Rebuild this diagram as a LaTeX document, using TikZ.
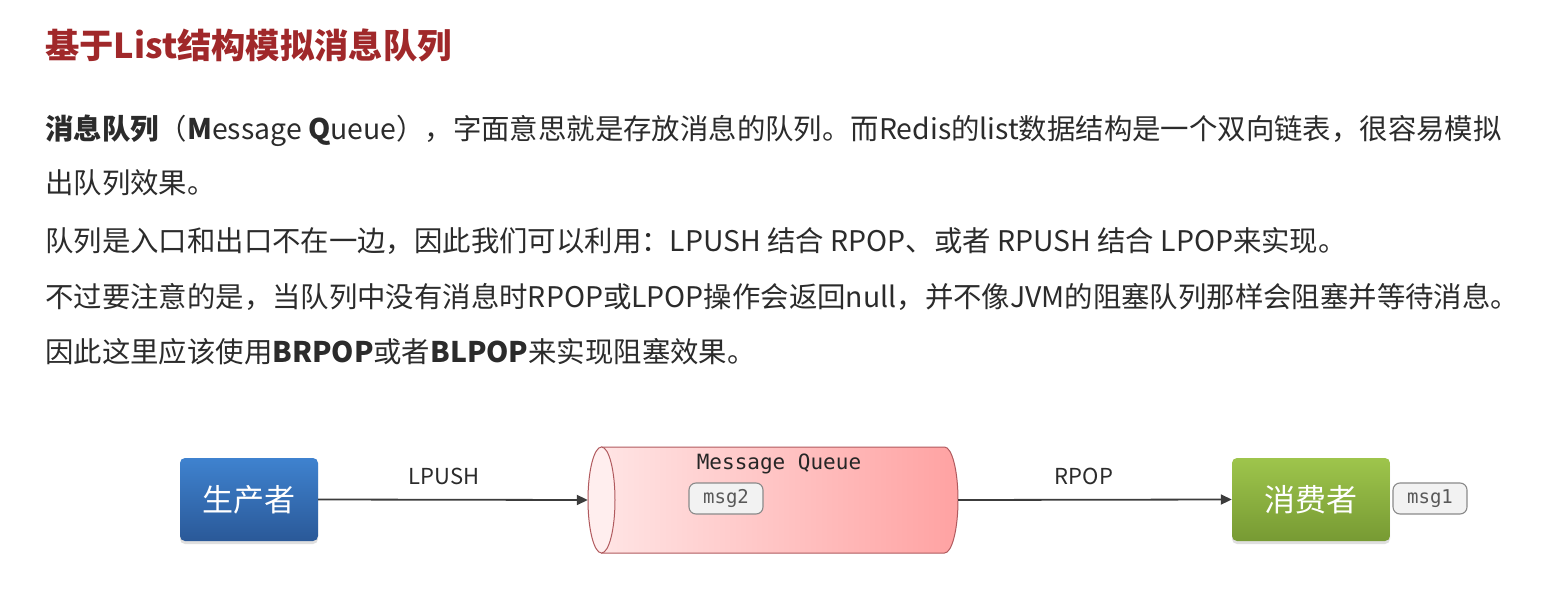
\documentclass[tikz,border=0pt]{standalone}
\usepackage{fontspec}
\setmainfont{Noto Sans CJK SC}
\newfontfamily\monofont{DejaVu Sans Mono}
\usetikzlibrary{arrows.meta,shadows}
\definecolor{titlered}{HTML}{A0282A}
\definecolor{bodytext}{HTML}{2B2B2B}
\definecolor{bluetop}{HTML}{3F82CF}
\definecolor{bluebot}{HTML}{2A5998}
\definecolor{greentop}{HTML}{9EC54C}
\definecolor{greenbot}{HTML}{779A33}
\definecolor{pinkleft}{HTML}{FFE7E7}
\definecolor{pinkright}{HTML}{FFA2A2}
\definecolor{cylborder}{HTML}{B05A5E}
\definecolor{arrowgray}{HTML}{3C3C3C}
\definecolor{msgfill}{HTML}{F2F2F2}
\definecolor{msgborder}{HTML}{8A8A8A}
\begin{document}
\begin{tikzpicture}[x=1pt,y=1pt,
  textline/.style={anchor=west,inner sep=0,text=bodytext,font=\fontsize{28.4}{34}\selectfont},
  actor/.style={rounded corners=5pt,inner sep=0,text=white,
     font=\fontsize{31}{36}\selectfont,minimum height=83,
     drop shadow={opacity=0.25,shadow xshift=0pt,shadow yshift=-3pt}},
  msgbox/.style={draw=msgborder,line width=1.1pt,fill=msgfill,rounded corners=7pt,
     minimum width=74,minimum height=31,inner sep=0,text=black!65,
     font=\monofont\fontsize{19}{22}\selectfont},
  conn/.style={draw=arrowgray,line width=1.8pt,-{Triangle[length=11pt,width=10pt]}},
  oplabel/.style={inner sep=0,text=bodytext,font=\fontsize{22}{26}\selectfont}]
\useasboundingbox (0,0) rectangle (1567,-604);
\fill[white] (0,0) rectangle (1567,-604);

\node[anchor=west,inner sep=0,text=titlered,font=\fontsize{34.3}{40}\selectfont\bfseries] (title) at (45,-45) {基于List结构模拟消息队列};

\node[textline] (l1) at (45,-131) {\textbf{消息队列}（\textbf{M}essage \textbf{Q}ueue），字面意思就是存放消息的队列。而Redis的list数据结构是一个双向链表，很容易模拟};
\node[textline] (l2) at (45,-183) {出队列效果。};
\node[textline] (l3) at (45,-241) {队列是入口和出口不在一边，因此我们可以利用：LPUSH 结合 RPOP、或者 RPUSH 结合 LPOP来实现。};
\node[textline] (l4) at (45,-297) {不过要注意的是，当队列中没有消息时RPOP或LPOP操作会返回null，并不像JVM的阻塞队列那样会阻塞并等待消息。};
\node[textline] (l5) at (45,-352) {因此这里应该使用\textbf{BRPOP}或者\textbf{BLPOP}来实现阻塞效果。};

% producer and consumer
\node[actor,top color=bluetop,bottom color=bluebot,minimum width=138] (prod) at (249,-499.5) {生产者};
\node[actor,top color=greentop,bottom color=greenbot,minimum width=158] (cons) at (1311,-499.5) {消费者};

% message queue cylinder
\node[minimum width=370,minimum height=106,inner sep=0] (mq) at (773,-500) {};
\shade[left color=pinkleft,right color=pinkright]
  (601,-447) -- (944.5,-447) arc[start angle=90,end angle=-90,x radius=13.5pt,y radius=53pt]
  -- (601,-553) arc[start angle=-90,end angle=-270,x radius=13.5pt,y radius=53pt] -- cycle;
\draw[cylborder,line width=1pt]
  (601,-447) -- (944.5,-447) arc[start angle=90,end angle=-90,x radius=13.5pt,y radius=53pt]
  -- (601,-553);
\draw[cylborder,line width=1pt,fill=pinkleft!70!white] (601.5,-500) ellipse[x radius=13.5pt,y radius=53pt];
\node[inner sep=0,text=black!85,font=\monofont\fontsize{21}{24}\selectfont] (mqlabel) at (779,-464) {Message Queue};
\node[msgbox] (msg2) at (726,-498.5) {msg2};
\node[msgbox] (msg1) at (1430,-498.5) {msg1};

% connectors
\draw[conn] (prod.east) -- (mq.west);
\draw[conn] (mq.east) -- (cons.west);
\node[oplabel] (lpush) at (444,-476) {LPUSH};
\node[oplabel] (rpop) at (1084,-476) {RPOP};
\end{tikzpicture}
\end{document}
